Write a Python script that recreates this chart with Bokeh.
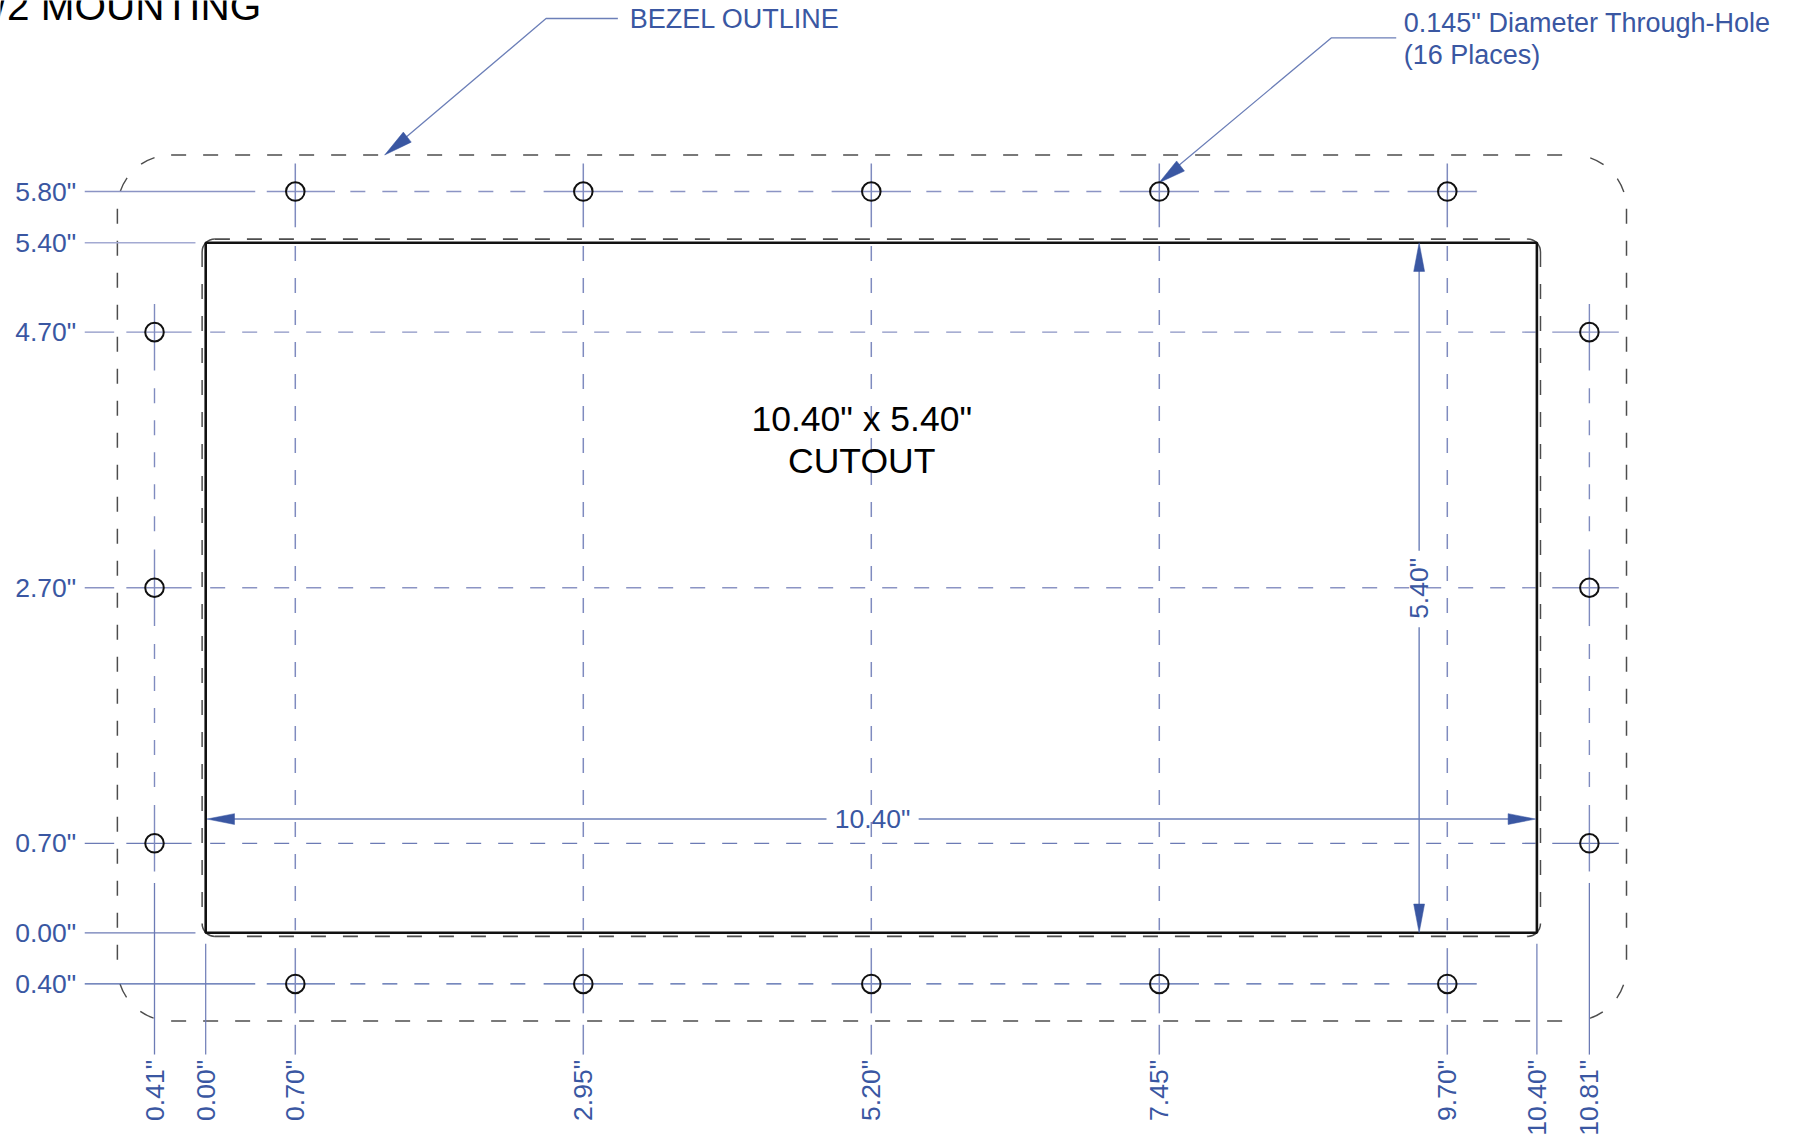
from math import hypot, pi
from bokeh.core.properties import value
from bokeh.embed import file_html
from bokeh.models import Range1d
from bokeh.plotting import figure
from bokeh.resources import INLINE

# --- drawing values, in inches ---------------------------------------------
CUTOUT_W, CUTOUT_H = 10.40, 5.40
HOLE_X = [0.70, 2.95, 5.20, 7.45, 9.70]
ROW_Y = [5.80, -0.40]
SIDE_X = [-0.40, 10.81]
SIDE_Y = [4.70, 2.70, 0.70]
HOLE_DIAMETER = 0.145
BEZEL = dict(left=-0.69, right=11.10, top=6.086, bottom=-0.69, radius=0.42)
CORNER_DASH_DEG = [(18, 34), (55, 71)]

Y_LABELS = ['5.80"', '5.40"', '4.70"', '2.70"', '0.70"', '0.00"', '0.40"']
Y_LABEL_POS = [5.80, 5.40, 4.70, 2.70, 0.70, 0.00, -0.40]
X_LABELS = ['0.41"', '0.00"', '0.70"', '2.95"', '5.20"', '7.45"', '9.70"', '10.40"', '10.81"']
X_LABEL_POS = [-0.40, 0.00, 0.70, 2.95, 5.20, 7.45, 9.70, 10.40, 10.81]

LEAD_X, LEAD_Y = -0.945, -0.953
DIM_Y, DIM_X = 0.89, 9.48

BLUE = "#3a57a2"
BLACK = "#111111"
GREY = "#4d4d4d"
FONT = value("Liberation Sans")
DASH = "15 17"
SCALE, YSCALE, X0, Y0 = 128.0, 127.8, 205.2, 932.3
W, H = 1793, 1138

p = figure(width=W, height=H, output_backend="svg", toolbar_location=None,
           x_range=Range1d(-X0 / SCALE, (W - X0) / SCALE),
           y_range=Range1d((Y0 - H) / YSCALE, Y0 / YSCALE),
           min_border=0, outline_line_color=None)
p.axis.visible = False
p.grid.visible = False
p.styles = {"position": "absolute", "left": "0", "top": "0"}


def seg(x, y, color, width=1.4, dash=None):
    kw = {"line_dash": dash} if dash else {}
    p.line(x, y, line_color=color, line_width=width, **kw)


def head(tip, base, width=0.085):
    dx, dy = base[0] - tip[0], base[1] - tip[1]
    n = hypot(dx, dy)
    ox, oy = -dy / n * width / 2, dx / n * width / 2
    p.patch([tip[0], base[0] + ox, base[0] - ox], [tip[1], base[1] + oy, base[1] - oy],
            fill_color=BLUE, line_color=BLUE, line_width=0.5)


# bezel outline
b, r = BEZEL, BEZEL["radius"]
seg([b["left"] + r, b["right"] - r], [b["top"]] * 2, GREY, 1.5, DASH)
seg([b["left"] + r, b["right"] - r], [b["bottom"]] * 2, GREY, 1.5, DASH)
seg([b["left"]] * 2, [b["top"] - r, b["bottom"] + r], GREY, 1.5, DASH)
seg([b["right"]] * 2, [b["top"] - r, b["bottom"] + r], GREY, 1.5, DASH)
corners = [(b["right"] - r, b["top"] - r, 0), (b["left"] + r, b["top"] - r, 90),
           (b["left"] + r, b["bottom"] + r, 180), (b["right"] - r, b["bottom"] + r, 270)]
for cx, cy, a in corners:
    for d0, d1 in CORNER_DASH_DEG:
        p.arc([cx], [cy], radius=r, start_angle=(a + d0) * pi / 180, end_angle=(a + d1) * pi / 180,
              direction="anticlock", line_color=GREY, line_width=1.4)

# hidden outline hugging the cutout
m, rr = 0.028, 0.10
seg([rr - m, CUTOUT_W + m - rr], [CUTOUT_H + m] * 2, GREY, 1.8, DASH)
seg([rr - m, CUTOUT_W + m - rr], [-m] * 2, GREY, 1.8, DASH)
seg([-m] * 2, [CUTOUT_H + m - rr, rr - m], GREY, 1.5, DASH)
seg([CUTOUT_W + m] * 2, [CUTOUT_H + m - rr, rr - m], GREY, 1.5, DASH)
for cx, cy, a in [(CUTOUT_W + m - rr, CUTOUT_H + m - rr, 0), (rr - m, CUTOUT_H + m - rr, pi / 2),
                  (rr - m, rr - m, pi), (CUTOUT_W + m - rr, rr - m, 1.5 * pi)]:
    p.arc([cx], [cy], radius=rr, start_angle=a, end_angle=a + pi / 2, direction="anticlock",
          line_color=GREY, line_width=1.5)

# centre lines of top and bottom rows
ROW_COLOR = {5.80: "#8b94c4", -0.40: "#4a62a8"}
ROW_WIDTH = {5.80: 1.6, -0.40: 1.2}
V_COLOR = "#7f8bbf"
for y in ROW_Y:
    c, w = ROW_COLOR[y], ROW_WIDTH[y]
    seg([LEAD_X, HOLE_X[0] - 0.313], [y, y], c, w)
    for i, x in enumerate(HOLE_X):
        seg([x - (0.223 if i == 0 else 0.31), x + (0.23 if i == len(HOLE_X) - 1 else 0.31)], [y, y], c, w)
        if i < len(HOLE_X) - 1:
            seg([x + 0.43, HOLE_X[i + 1] - 0.43], [y, y], c, w, DASH)
for x in HOLE_X:
    seg([x, x], [ROW_Y[0] + 0.22, ROW_Y[0] - 0.28], V_COLOR, 1.5)
    seg([x, x], [5.375, 0.02], V_COLOR, 1.5, DASH)
    seg([x, x], [ROW_Y[1] + 0.28, ROW_Y[1] - 0.23], V_COLOR, 1.5)
    seg([x, x], [ROW_Y[1] - 0.32, LEAD_Y], V_COLOR, 1.5)

# centre lines of side holes
SIDE_COLOR = {4.70: "#8b94c4", 2.70: "#8b94c4", 0.70: "#6c7bb5"}
for y in SIDE_Y:
    c = SIDE_COLOR[y]
    seg([LEAD_X, -0.715], [y, y], c, 1.4)
    seg([SIDE_X[0] - 0.22, SIDE_X[0] + 0.29], [y, y], c, 1.4)
    seg([0.035, CUTOUT_W - 0.01], [y, y], c, 1.4, DASH)
    seg([CUTOUT_W + 0.12, SIDE_X[1] + 0.23], [y, y], c, 1.4)
for x in SIDE_X:
    seg([x, x], [SIDE_Y[0] + 0.22, SIDE_Y[0] - 0.30], V_COLOR, 1.4)
    seg([x, x], [SIDE_Y[0] - 0.44, SIDE_Y[1] + 0.44], V_COLOR, 1.4, DASH)
    seg([x, x], [SIDE_Y[1] + 0.30, SIDE_Y[1] - 0.30], V_COLOR, 1.4)
    seg([x, x], [SIDE_Y[1] - 0.44, SIDE_Y[2] + 0.44], V_COLOR, 1.4, DASH)
    seg([x, x], [SIDE_Y[2] + 0.30, SIDE_Y[2] - 0.22], V_COLOR, 1.4)
    seg([x, x], [SIDE_Y[2] - 0.31, LEAD_Y], "#6c7bb5", 1.3)

# leaders of the cutout edges
seg([LEAD_X, -0.08], [CUTOUT_H] * 2, "#a3aad2", 1.4)
seg([LEAD_X, -0.08], [0, 0], "#6c7bb5", 1.3)
seg([0, 0], [-0.086, LEAD_Y], "#6c7bb5", 1.2)
seg([CUTOUT_W] * 2, [-0.086, LEAD_Y], "#6c7bb5", 1.2)

# cutout
p.quad(left=[0], right=[CUTOUT_W], bottom=[0], top=[CUTOUT_H], fill_alpha=0,
       line_color=BLACK, line_width=2.6)

# dimensions
seg([0.1, 4.85], [DIM_Y] * 2, "#6c7fb8", 1.4)
seg([5.57, CUTOUT_W - 0.1], [DIM_Y] * 2, "#6c7fb8", 1.4)
seg([DIM_X] * 2, [CUTOUT_H - 0.1, 2.99], "#6c7fb8", 1.4)
seg([DIM_X] * 2, [2.39, 0.1], "#6c7fb8", 1.4)
head((0.01, DIM_Y), (0.225, DIM_Y))
head((CUTOUT_W - 0.01, DIM_Y), (CUTOUT_W - 0.225, DIM_Y))
head((DIM_X, CUTOUT_H), (DIM_X, CUTOUT_H - 0.225))
head((DIM_X, 0.0), (DIM_X, 0.225))

# call-outs
seg([1.50, 2.659, 3.22], [6.17, 7.154, 7.154], "#6c7fb8", 1.3)
head((1.398, 6.086), (1.575, 6.226), 0.1)
seg([7.55, 8.793, 9.301], [5.96, 7.002, 7.002], "#6c7fb8", 1.3)
head((7.448, 5.869), (7.616, 6.0), 0.1)

# holes
p.circle(HOLE_X * 2, [ROW_Y[0]] * 5 + [ROW_Y[1]] * 5, radius=HOLE_DIAMETER / 2,
         fill_alpha=0, line_color=BLACK, line_width=2)
p.circle([SIDE_X[0]] * 3 + [SIDE_X[1]] * 3, SIDE_Y * 2, radius=HOLE_DIAMETER / 2,
         fill_alpha=0, line_color=BLACK, line_width=2)

# text
blue_text = dict(text_color=BLUE, text_font=FONT, text_font_size="26.5px")
p.text([-1.012] * len(Y_LABELS), Y_LABEL_POS, text=Y_LABELS, text_align="right",
       text_baseline="middle", **blue_text)
p.text(X_LABEL_POS, [-0.995] * len(X_LABELS), text=X_LABELS, angle=pi / 2, text_align="right",
       text_baseline="middle", **blue_text)
p.text([5.21], [DIM_Y], text=['10.40"'], text_align="center", text_baseline="middle", **blue_text)
p.text([DIM_X], [2.695], text=['5.40"'], angle=pi / 2, text_align="center",
       text_baseline="middle", **blue_text)
p.text([3.3125], [7.148], text=["BEZEL OUTLINE"], text_baseline="middle",
       **dict(blue_text, text_font_size="27px"))
hole_text = dict(blue_text, text_font_size="27px")
p.text([9.36, 9.36], [7.12, 6.871], text=['0.145" Diameter Through-Hole', "(16 Places)"],
       text_baseline="middle", **hole_text)
black_text = dict(text_color="black", text_font=FONT, text_font_size="35.5px")
p.text([5.125, 5.125], [4.02, 3.69], text=['10.40" x 5.40"', "CUTOUT"], text_align="center",
       text_baseline="middle", **black_text)
p.text([-1.64], [7.25], text=["/2 MOUNTING"], text_color="black", text_font=FONT,
       text_font_size="40.5px", text_baseline="alphabetic")

open("out.html", "w").write(file_html(p, INLINE))
